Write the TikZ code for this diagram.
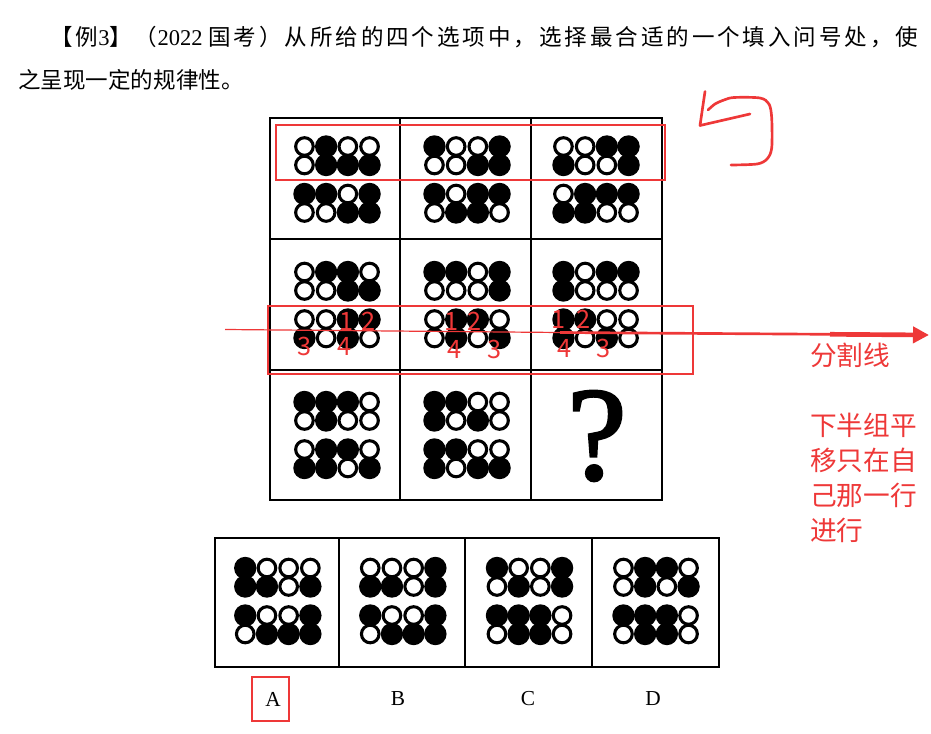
\documentclass[tikz,border=0pt]{standalone}
\usepackage{fontspec}
\setmainfont{Liberation Serif}
\newfontfamily\cjk{Noto Sans CJK SC}
\newfontfamily\cjkwide[LetterSpace=13]{Noto Sans CJK SC}
\newfontfamily\qfont[FakeBold=2]{Liberation Serif}
\usetikzlibrary{arrows.meta}
\definecolor{annot}{RGB}{238,56,56}
\tikzset{
  grid line/.style={line width=2pt},
  mark box/.style={draw=annot, line width=1.8pt},
  mark pen/.style={draw=annot, line width=2pt, line cap=round, line join=round},
  mark num/.style={text=annot, font=\cjk\fontsize{19}{19}\selectfont, inner sep=0pt},
  mark text/.style={text=annot, font=\cjk\fontsize{20}{26.25}\selectfont, inner sep=0pt, align=left},
  stem/.style={font=\fontsize{16.9}{22}\selectfont, inner sep=0pt, anchor=west},
  letter/.style={font=\fontsize{16}{16}\selectfont, inner sep=0pt},
}
% a panel of 16 dots: centre x, centre y, entries row by row (1 black, 0 white)
\newcommand{\dotpanel}[3]{%
  \foreach \v [count=\i from 0] in {#3} {
    \pgfmathsetmacro\dx{#1+(mod(\i,4)-1.5)*21.7}
    \pgfmathsetmacro\rowoff{{-33,-14.5,14.5,33}[div(\i,4)]}
    \pgfmathsetmacro\dy{#2+\rowoff}
    \ifnum\v=1 \fill (\dx,\dy) circle (8.4pt);\fi
  }
  \foreach \v [count=\i from 0] in {#3} {
    \pgfmathsetmacro\dx{#1+(mod(\i,4)-1.5)*21.7}
    \pgfmathsetmacro\rowoff{{-33,-14.5,14.5,33}[div(\i,4)]}
    \pgfmathsetmacro\dy{#2+\rowoff}
    \ifnum\v=0 \filldraw[fill=white, line width=2.3pt] (\dx,\dy) circle (6.6pt);\fi
  }
}
\begin{document}
\begin{tikzpicture}[x=0.75pt, y=-0.75pt]
	\useasboundingbox (0,0) rectangle (931,734);
	\node[stem] (line1) at (50,37) {{\cjkwide 【例}3{\cjkwide 】（}2022 {\cjkwide 国考）从所给的四个选项中，选择最合适的一个填入问号处，使}};
	\node[stem] (line2) at (18,80) {\cjk 之呈现一定的规律性。};
	% the 3x3 grid
	\draw[grid line] (270,118) rectangle (662,500);
	\draw[grid line] (400,118) -- (400,500) (531,118) -- (531,500);
	\draw[grid line] (270,239) -- (662,239) (270,370) -- (662,370);
	\dotpanel{337}{179.5}{0,1,0,0, 0,1,1,1, 1,1,0,1, 0,0,1,1}
	\dotpanel{467}{179.5}{1,0,0,1, 0,0,1,1, 1,0,1,1, 0,1,1,0}
	\dotpanel{596}{179.5}{0,0,1,1, 1,0,0,1, 0,1,1,1, 1,1,0,0}
	\dotpanel{337}{305}{0,1,1,0, 0,0,1,1, 0,0,1,1, 1,0,1,0}
	\dotpanel{467}{305}{1,1,0,1, 0,0,0,1, 0,1,1,0, 0,1,0,1}
	\dotpanel{596}{305}{1,0,1,1, 1,0,0,0, 1,1,0,0, 1,0,1,0}
	\dotpanel{337}{435}{1,1,1,0, 0,1,0,0, 0,1,1,0, 1,1,0,1}
	\dotpanel{467}{435}{1,1,0,0, 1,0,1,0, 1,1,0,0, 1,0,1,1}
	\node[font=\qfont\fontsize{100}{100}\selectfont, inner sep=0pt] (qmark) at (597,436) {?};
	% the four options
	\draw[grid line] (215,538) rectangle (719,667);
	\draw[grid line] (339,538) -- (339,667) (465,538) -- (465,667) (592,538) -- (592,667);
	\dotpanel{277.8}{601}{1,0,0,0, 1,1,0,1, 1,0,0,1, 0,1,1,1}
	\dotpanel{402.8}{601}{0,0,0,1, 1,1,0,1, 1,0,0,1, 0,1,1,1}
	\dotpanel{529.5}{601}{1,0,0,1, 0,1,0,1, 1,1,1,0, 0,1,1,0}
	\dotpanel{656}{601}{0,1,1,0, 0,1,0,1, 1,1,1,0, 0,1,1,0}
	\node[letter] (optA) at (273,699) {A};
	\node[letter] (optB) at (398,699) {B};
	\node[letter] (optC) at (528,699) {C};
	\node[letter] (optD) at (653,699) {D};
	% red marks
	\draw[mark box] (276,125) rectangle (665,180);
	\draw[mark box] (268,306) rectangle (693,374);
	\draw[mark box] (252,677) rectangle (289,721);
	\foreach \x/\y/\t [count=\k] in {346.7/321.3/1, 368.3/321.3/2, 304.3/346.3/3, 345/346.3/4,
	    451.7/321.3/1, 475/321.3/2, 455/349.7/4, 495/349.7/3,
	    558.3/319.7/1, 583.3/319.7/2, 565/348/4, 603.3/348/3}
	  \node[mark num] (num\k) at (\x,\y) {\t};
	\coordinate (cutL) at (225,329.5);
	\coordinate (cutM) at (560,332.5);
	\coordinate (cutN) at (830,334.3);
	\coordinate (cutR) at (929,335);
	\draw[annot, line width=0.9pt] (cutL) -- (cutM);
	\draw[annot, line width=2pt] (cutM) -- (cutN);
	\draw[annot, line width=3.5pt, -{Triangle[length=12pt, width=12pt]}] (cutN) -- (cutR);
	\coordinate (turn) at (700,125.5);
	\draw[mark pen] (705,91.5) -- (turn) -- (750,114);
	\draw[mark pen] plot[smooth] coordinates {(708,110) (715,104) (724,100) (734,97.5) (760,98) (769,104) (771.7,118) (771.7,148) (767,159) (757,164) (731,165)};
	\node[mark text, anchor=west] (cutlabel) at (810,355) {分割线};
	\node[mark text, anchor=north west] (note) at (810,413) {下半组平\\移只在自\\己那一行\\进行};
\end{tikzpicture}
\end{document}
